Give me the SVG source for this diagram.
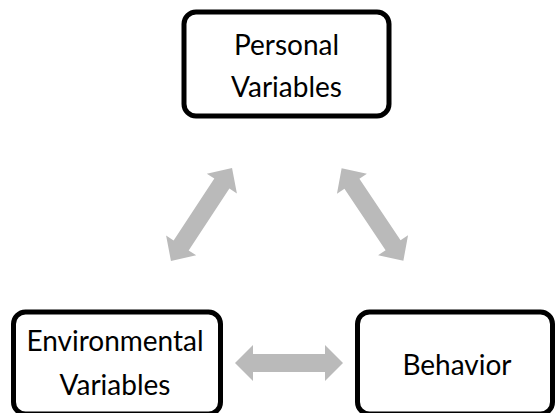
<svg xmlns="http://www.w3.org/2000/svg" width="555" height="413" viewBox="0 0 555 413">
<style>
.box{fill:#fff;stroke:#000;stroke-width:5}
.lbl{font-family:Lato,"Open Sans","Liberation Sans",sans-serif;font-size:28px;fill:#000;text-anchor:middle}
.arr{fill:#bababa}
</style>
<defs>
<path id="dbl" d="M-54,0 L-36,-18 L-36,-9 L36,-9 L36,-18 L54,0 L36,18 L36,9 L-36,9 L-36,18 Z"/>
</defs>
<rect width="555" height="413" fill="#fff"/>
<g id="connectors" class="arr">
<use href="#dbl" transform="translate(289,363)"/>
<use href="#dbl" transform="translate(201.5,214.5) rotate(-56.7) scale(1.03,1)"/>
<use href="#dbl" transform="translate(372.5,214.5) rotate(56.3) scale(1.03,1)"/>
</g>
<g id="personal">
<rect class="box" x="184" y="12" width="205" height="104" rx="12"/>
<text class="lbl" x="286.5" y="55">Personal</text>
<text class="lbl" x="286.5" y="97">Variables</text>
</g>
<g id="environmental">
<rect class="box" x="13.5" y="312" width="207" height="102" rx="12"/>
<text class="lbl" x="115" y="351">Environmental</text>
<text class="lbl" x="115" y="395">Variables</text>
</g>
<g id="behavior">
<rect class="box" x="357.5" y="312" width="195" height="102" rx="12"/>
<text class="lbl" x="457" y="375">Behavior</text>
</g>
</svg>
